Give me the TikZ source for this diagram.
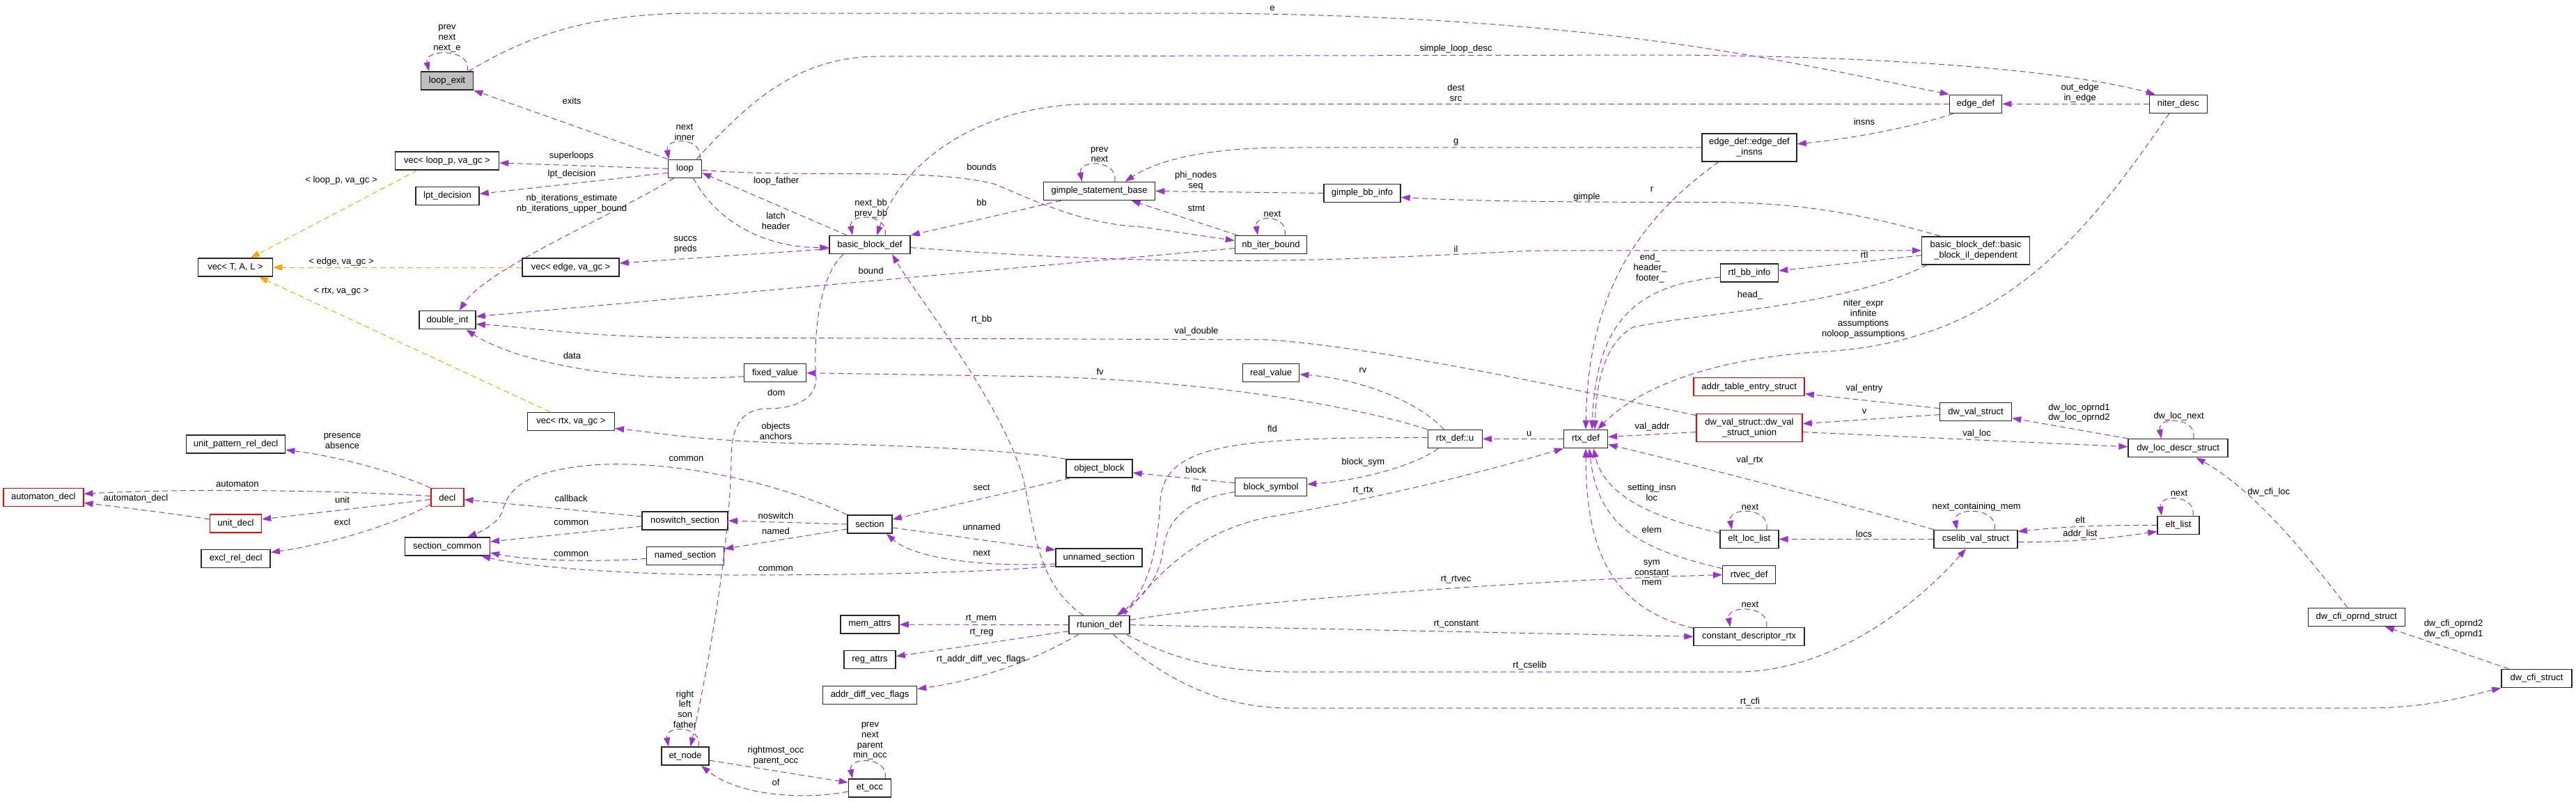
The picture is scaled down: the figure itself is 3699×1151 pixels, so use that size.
\documentclass[tikz,border=0pt]{standalone}
\usepackage{fontspec}
\setmainfont{Liberation Sans}
\usepackage{tikz}
\usetikzlibrary{arrows.meta}
\definecolor{edgepurple}{HTML}{9A32CD}
\definecolor{tmplorange}{HTML}{FFA500}
\definecolor{mainfill}{HTML}{BFBFBF}

\begin{document}
\begin{tikzpicture}[
    x=1pt, y=-1pt,
    every node/.style={font=\fontsize{13}{14.8}\selectfont},
    cls/.style={rectangle, draw=black!85, line width=1.5pt, fill=white, minimum height=26pt, inner sep=0pt, align=center},
    twoline/.style={cls, minimum height=40pt},
    undoc/.style={draw=red},
    uses/.style={-{Triangle[length=13pt, width=9pt]}, edgepurple, dash pattern=on 8pt off 5pt, line width=1pt},
    tmpl/.style={uses, tmplorange},
    lbl/.style={align=center, inner sep=0pt, text=black},
]
\useasboundingbox (0,0) rectangle (3699,1151);

\node[cls, fill=mainfill, minimum width=75pt] (lexit) at (642,116) {loop\_exit};
\node[cls, minimum width=149pt] (veclp) at (642,231) {vec< loop\_p, va\_gc >};
\node[cls, minimum width=91pt] (lptd) at (642.5,281.5) {lpt\_decision};
\node[cls, minimum width=48pt] (loop) at (983.5,242.3) {loop};
\node[cls, minimum width=107pt] (vect) at (338,384) {vec< T, A, L >};
\node[cls, minimum width=139pt] (vecedge) at (819.5,384) {vec< edge, va\_gc >};
\node[cls, minimum width=81pt] (dint) at (642.5,459.7) {double\_int};
\node[cls, minimum width=89pt] (fixv) at (1113,535.7) {fixed\_value};
\node[cls, minimum width=116pt] (bbd) at (1249,351.6) {basic\_block\_def};
\node[cls, minimum width=160pt] (gsb) at (1578.6,274.5) {gimple\_statement\_base};
\node[cls, minimum width=103pt] (nbib) at (1825,351.6) {nb\_iter\_bound};
\node[cls, minimum width=81pt] (realv) at (1825,535.7) {real\_value};
\node[cls, minimum width=110pt] (gbbi) at (1956,277.5) {gimple\_bb\_info};
\node[cls, minimum width=75pt] (edef) at (2837,149.3) {edge\_def};
\node[twoline, minimum width=136pt] (edins) at (2512,211.8) {edge\_def::edge\_def\\\_insns};
\node[twoline, minimum width=155pt] (bbil) at (2837,359.8) {basic\_block\_def::basic\\\_block\_il\_dependent};
\node[cls, minimum width=83pt] (rtlbb) at (2512,392) {rtl\_bb\_info};
\node[cls, undoc, minimum width=159pt] (atab) at (2511.6,555.7) {addr\_table\_entry\_struct};
\node[cls, minimum width=83pt] (nitd) at (3127.8,149.3) {niter\_desc};
\node[cls, minimum width=142pt] (uprd) at (338.5,638.2) {unit\_pattern\_rel\_decl};
\node[cls, undoc, minimum width=115pt] (autd) at (62.3,714.4) {automaton\_decl};
\node[cls, undoc, minimum width=74pt] (unitd) at (338.5,751.9) {unit\_decl};
\node[cls, minimum width=99pt] (excld) at (338.7,802.5) {excl\_rel\_decl};
\node[cls, undoc, minimum width=47pt] (decl) at (642.3,714.5) {decl};
\node[cls, minimum width=122pt] (scom) at (642.3,785) {section\_common};
\node[cls, minimum width=125pt] (vecrtx) at (819.9,605.4) {vec< rtx, va\_gc >};
\node[cls, minimum width=123pt] (nosw) at (983.7,747.9) {noswitch\_section};
\node[cls, minimum width=111pt] (nmsec) at (984,798.4) {named\_section};
\node[cls, minimum width=68pt] (etnode) at (984,1086.2) {et\_node};
\node[cls, minimum width=95pt] (objb) at (1578.5,673.1) {object\_block};
\node[cls, minimum width=64pt] (sect) at (1249,753) {section};
\node[cls, minimum width=124pt] (unsec) at (1578,801) {unnamed\_section};
\node[cls, minimum width=103pt] (bsym) at (1825,699.7) {block\_symbol};
\node[cls, minimum width=84pt] (mema) at (1249,897) {mem\_attrs};
\node[cls, minimum width=87pt] (rtun) at (1578.7,897.6) {rtunion\_def};
\node[cls, minimum width=74pt] (rega) at (1249,947.7) {reg\_attrs};
\node[cls, minimum width=135pt] (adfl) at (1249,998.6) {addr\_diff\_vec\_flags};
\node[cls, minimum width=61pt] (etocc) at (1249,1132) {et\_occ};
\node[cls, minimum width=78pt] (rtxu) at (2089.3,630.5) {rtx\_def::u};
\node[cls, minimum width=63pt] (rtx) at (2277,630.5) {rtx\_def};
\node[twoline, undoc, minimum width=152pt] (dvsu) at (2512,614.6) {dw\_val\_struct::dw\_val\\\_struct\_union};
\node[cls, minimum width=103pt] (dvs) at (2837,591.6) {dw\_val\_struct};
\node[cls, minimum width=84pt] (elll) at (2511.8,774.5) {elt\_loc\_list};
\node[cls, minimum width=120pt] (cvs) at (2837,774.5) {cselib\_val\_struct};
\node[cls, minimum width=76pt] (rtvec) at (2511.7,825.6) {rtvec\_def};
\node[cls, minimum width=159pt] (cdr) at (2511.6,914.4) {constant\_descriptor\_rtx};
\node[cls, minimum width=143pt] (dlds) at (3127.6,643.7) {dw\_loc\_descr\_struct};
\node[cls, minimum width=60pt] (eltl) at (3128,754.4) {elt\_list};
\node[cls, minimum width=139pt] (dcos) at (3383.8,886.4) {dw\_cfi\_oprnd\_struct};
\node[cls, minimum width=101pt] (dcfs) at (3642.5,974.4) {dw\_cfi\_struct};

% loop side
\draw[uses] ([xshift=29pt]lexit.north) .. controls +(8,-33) and +(-8,-33) .. ([xshift=-26pt]lexit.north) node[lbl] at (642,55.5) {prev\\next\\next\_e};
\draw[uses] ([xshift=31pt]lexit.north) .. controls (760,50) and (850,19) .. (1000,19) -- (1750,19) .. controls (2300,25) and (2550,85) .. (edef.north west) node[lbl] at (1827,11.8) {e};
\draw[uses] (loop.north west) -- (lexit.south east) node[lbl] at (821,144.7) {exits};
\draw[uses] ([xshift=21.5pt]loop.north) .. controls +(6,-32) and +(-6,-32) .. ([xshift=-23pt]loop.north) node[lbl] at (983,189.6) {next\\inner};
\draw[uses] (loop.west) -- ([yshift=-3pt]veclp.east) node[lbl] at (820.6,224.6) {superloops};
\draw[uses] ([yshift=-6pt]loop.west) -- ([yshift=3pt]lptd.east) node[lbl] at (821,250.5) {lpt\_decision};
\draw[uses] ([xshift=-16pt]loop.south) .. controls (880,310) and (700,385) .. ([xshift=17pt]dint.north) node[lbl] at (821,292.3) {nb\_iterations\_estimate\\nb\_iterations\_upper\_bound};
\draw[uses] ([xshift=-33pt]bbd.north) -- ([yshift=-6pt]loop.east) node[lbl] at (1114.8,259.7) {loop\_father};
\draw[uses] ([xshift=12pt]loop.south) .. controls (1030,320) and (1100,356) .. ([yshift=-4pt]bbd.west) node[lbl] at (1114,317.7) {latch\\header};
\draw[uses] ([yshift=-6pt]bbd.west) -- ([yshift=6pt]vecedge.east) node[lbl] at (984.3,351.5) {succs\\preds};
\draw[tmpl] ([xshift=-43pt]veclp.south) -- ([xshift=22pt]vect.north) node[lbl] at (490,259) {< loop\_p, va\_gc >};
\draw[tmpl] (vecedge.west) -- (vect.east) node[lbl] at (490,376) {< edge, va\_gc >};
\draw[tmpl] ([xshift=-30pt]vecrtx.north) -- ([xshift=34pt]vect.south) node[lbl] at (490,419) {< rtx, va\_gc >};
\draw[uses] ([yshift=-5pt]fixv.west) .. controls (900,552) and (740,520) .. ([xshift=27pt]dint.south) node[lbl] at (821.4,510.5) {data};
\draw[uses] ([yshift=-5pt]nbib.west) -- ([yshift=5pt]dint.east) node[lbl] at (1250.6,388.5) {bound};
\draw[uses] ([yshift=18pt]dvsu.west) .. controls (2330,575) and (2000,500) .. (1820,488) -- (1000,485) .. controls (850,485) and (760,470) .. ([yshift=-6pt]dint.east) node[lbl] at (1718,476.5) {val\_double};
\draw[uses] (rtxu.north west) .. controls (1950,585) and (1750,548) .. (1500,541) -- (fixv.east) node[lbl] at (1579.6,534) {fv};
\draw[uses] ([xshift=-16pt]rtxu.north) .. controls (2040,580) and (1960,545) .. ([yshift=-2pt]realv.east) node[lbl] at (1957,532) {rv};
\draw[uses] (rtx.west) -- (rtxu.east) node[lbl] at (2195.8,623) {u};
\draw[uses] ([yshift=2pt]rtxu.west) .. controls (1760,628) and (1672,640) .. (1666,720) .. controls (1662,800) and (1645,850) .. ([xshift=28pt]rtun.north) node[lbl] at (1826.9,615.4) {fld};
\draw[uses] ([yshift=-7pt]bsym.west) .. controls (1700,718) and (1675,750) .. (1670,790) .. controls (1665,830) and (1640,860) .. ([xshift=25pt]rtun.north) node[lbl] at (1717.6,702) {fld};
\draw[uses] ([xshift=-24pt]rtxu.south) .. controls (2030,670) and (1950,690) .. ([yshift=4pt]bsym.east) node[lbl] at (1957.4,663.7) {block\_sym};
\draw[uses] ([yshift=6pt]bsym.west) -- ([yshift=-6pt]objb.east) node[lbl] at (1717.2,675) {block};
\draw[uses] ([xshift=36pt]rtun.north) .. controls (1680,800) and (1740,760) .. (1820,743) .. controls (2000,712) and (2150,672) .. (rtx.south west) node[lbl] at (1957.4,704.7) {rt\_rtx};
\draw[uses] ([xshift=-23pt]rtun.north) .. controls (1490,840) and (1485,760) .. (1470,690) .. controls (1440,580) and (1320,430) .. ([xshift=32pt]bbd.south) node[lbl] at (1409.6,459.5) {rt\_bb};
\draw[uses] ([xshift=-38pt]bbd.south) .. controls (1172,400) and (1168,500) .. (1172,545) .. controls (1170,575) and (1140,587) .. (1100,587) .. controls (1060,588) and (1050,620) .. (1050,660) .. controls (1048,800) and (1008,1000) .. ([xshift=7.5pt]etnode.north) node[lbl] at (1114.8,563.4) {dom};

% sections
\draw[uses] (objb.north west) .. controls (1470,648) and (1300,639) .. (1150,637) .. controls (1000,633) and (950,622) .. ([yshift=-10pt]vecrtx.east) node[lbl] at (1114,619) {objects\\anchors};
\draw[uses] ([xshift=-42pt]objb.south) -- ([yshift=7pt]sect.east) node[lbl] at (1409.6,700.6) {sect};
\draw[uses] ([yshift=-5pt]sect.east) -- ([yshift=11pt]unsec.west) node[lbl] at (1409.6,756.4) {unnamed};
\draw[uses] ([yshift=-9pt]unsec.west) .. controls (1400,815) and (1310,800) .. ([xshift=24pt]sect.south) node[lbl] at (1409.6,794.5) {next};
\draw[uses] ([yshift=-12pt]unsec.west) .. controls (1420,822) and (1250,826) .. (1050,826) .. controls (900,825) and (760,815) .. ([xshift=49pt]scom.south) node[lbl] at (1114,816.7) {common};
\draw[uses] (sect.north west) .. controls (1110,690) and (960,660) .. (850,668) .. controls (760,676) and (730,700) .. (722,733) .. controls (716,752) and (690,764) .. ([xshift=29pt]scom.north) node[lbl] at (985.5,658.8) {common};
\draw[uses] (sect.west) -- (nosw.east) node[lbl] at (1114,740.5) {noswitch};
\draw[uses] ([yshift=-7pt]sect.west) -- ([yshift=10pt]nmsec.east) node[lbl] at (1114,762.4) {named};
\draw[uses] ([yshift=6pt]nosw.west) -- ([yshift=-3pt]decl.east) node[lbl] at (820.2,715.7) {callback};
\draw[uses] ([yshift=-8pt]nosw.west) -- ([yshift=7pt]scom.east) node[lbl] at (820.2,750.7) {common};
\draw[uses] ([yshift=-4pt]nmsec.west) .. controls (850,808) and (760,805) .. ([yshift=-9pt]scom.east) node[lbl] at (820.2,795.6) {common};
\draw[uses] (decl.north west) .. controls (560,675) and (480,655) .. ([yshift=-8pt]uprd.east) node[lbl] at (491.5,633.7) {presence\\absence};
\draw[uses] ([yshift=2pt]decl.west) .. controls (450,703) and (250,702) .. ([yshift=5pt]autd.east) node[lbl] at (340.8,695.7) {automaton};
\draw[uses] ([yshift=-3pt]decl.west) -- ([yshift=6pt]unitd.east) node[lbl] at (491.5,718.3) {unit};
\draw[uses] ([yshift=-10pt]decl.west) .. controls (570,752) and (480,780) .. ([yshift=9pt]excld.east) node[lbl] at (491.5,750.3) {excl};
\draw[uses] ([yshift=6pt]unitd.west) .. controls (250,738) and (170,728) .. ([yshift=-8pt]autd.east) node[lbl] at (195,716.4) {automaton\_decl};

% rtunion
\draw[uses] (rtun.west) -- (mema.east) node[lbl] at (1408.8,888.7) {rt\_mem};
\draw[uses] ([yshift=-9pt]rtun.west) -- ([yshift=5pt]rega.east) node[lbl] at (1409.6,908.7) {rt\_reg};
\draw[uses] ([xshift=-30pt]rtun.south) .. controls (1500,940) and (1420,975) .. ([yshift=9pt]adfl.east) node[lbl] at (1408.8,947.5) {rt\_addr\_diff\_vec\_flags};
\draw[uses] ([yshift=7pt]rtun.east) .. controls (1750,868) and (2150,835) .. (rtvec.west) node[lbl] at (2090.6,832.1) {rt\_rtvec};
\draw[uses] (rtun.east) -- (cdr.west) node[lbl] at (2091,896.6) {rt\_constant};
\draw[uses] ([xshift=-5pt]rtun.south east) .. controls (1680,945) and (1750,965) .. (1850,965) -- (2500,965) .. controls (2640,962) and (2760,860) .. ([xshift=-14pt]cvs.south) node[lbl] at (2196.6,956.5) {rt\_cselib};
\draw[uses] ([xshift=20pt]rtun.south) .. controls (1660,965) and (1740,1017) .. (1850,1017) -- (3400,1017) .. controls (3490,1017) and (3550,998) .. (dcfs.south west) node[lbl] at (2513,1008.5) {rt\_cfi};
\draw[uses] ([yshift=-6pt]etnode.east) -- ([yshift=8pt]etocc.west) node[lbl] at (1114,1085.6) {rightmost\_occ\\parent\_occ};
\draw[uses] ([yshift=-5pt]etocc.west) .. controls (1150,1150) and (1060,1142) .. ([xshift=23pt]etnode.south) node[lbl] at (1114,1124.3) {of};
\draw[uses] ([xshift=22pt]etocc.north) .. controls +(6,-32) and +(-6,-32) .. ([xshift=-25pt]etocc.north) node[lbl] at (1249.4,1064.5) {prev\\next\\parent\\min\_occ};
\draw[uses] ([xshift=19pt]etnode.north) .. controls +(6,-31) and +(-6,-31) .. ([xshift=-24pt]etnode.north) node[lbl] at (983.5,1018.7) {right\\left\\son\\father};

% edges and blocks
\draw[uses] ([xshift=-44pt]edins.south) .. controls (2330,330) and (2280,450) .. (rtx.north) node[lbl] at (2372,272) {r};
\draw[uses] ([yshift=-6pt]rtlbb.west) .. controls (2350,410) and (2292,460) .. ([xshift=9pt]rtx.north) node[lbl] at (2369.4,385) {end\_\\header\_\\footer\_};
\draw[uses] ([xshift=-70pt]bbil.south) .. controls (2650,440) and (2450,448) .. (2345,470) .. controls (2300,495) and (2292,560) .. ([xshift=13pt]rtx.north) node[lbl] at (2513,423.6) {head\_};
\draw[uses] ([xshift=-13pt]nitd.south) .. controls (3000,330) and (2880,490) .. (2620,505) .. controls (2450,515) and (2350,560) .. ([xshift=17pt]rtx.north) node[lbl] at (2675.7,458.2) {niter\_expr\\infinite\\assumptions\\noloop\_assumptions};
\draw[uses] ([xshift=17pt]loop.north) .. controls (1080,140) and (1150,82) .. (1260,81) -- (2400,79) .. controls (2800,82) and (3000,110) .. ([xshift=-33pt]nitd.north) node[lbl] at (2090.6,70.3) {simple\_loop\_desc};
\draw[uses] (edef.west) -- (1560,149.5) .. controls (1420,152) and (1300,220) .. ([xshift=10pt]bbd.north) node[lbl] at (2090.6,133.5) {dest\\src};
\draw[uses] (nitd.west) -- (edef.east) node[lbl] at (2986.6,134) {out\_edge\\in\_edge};
\draw[uses] ([xshift=-32pt]edef.south) .. controls (2740,185) and (2650,200) .. ([yshift=5pt]edins.east) node[lbl] at (2677,174.6) {insns};
\draw[uses] (edins.west) -- (1850,212) .. controls (1750,212) and (1670,225) .. ([xshift=37pt]gsb.north) node[lbl] at (2090.6,204.2) {g};
\draw[uses] (gbbi.west) -- (gsb.east) node[lbl] at (1717.2,259.5) {phi\_nodes\\seq};
\draw[uses] ([xshift=22pt]gsb.north) .. controls +(6,-32) and +(-6,-32) .. ([xshift=-25pt]gsb.north) node[lbl] at (1578.8,222) {prev\\next};
\draw[uses] ([xshift=-51pt]bbil.north) .. controls (2650,300) and (2560,290.5) .. (2450,290.5) .. controls (2200,290.5) and (2100,288) .. ([yshift=-6pt]gbbi.east) node[lbl] at (2278.5,283) {gimple};
\draw[uses] ([yshift=-7pt]bbil.west) -- ([yshift=3pt]rtlbb.east) node[lbl] at (2677,366.3) {rtl};
\draw[uses] ([yshift=-4pt]bbd.east) .. controls (1700,385) and (1900,375) .. (2200,360) -- (bbil.west) node[lbl] at (2090.6,357.7) {il};
\draw[uses] ([xshift=-55pt]gsb.south) -- (bbd.north east) node[lbl] at (1409.6,290.8) {bb};
\draw[uses] ([xshift=-48pt]nbib.north) -- ([xshift=46pt]gsb.south) node[lbl] at (1718,299.7) {stmt};
\draw[uses] ([xshift=20pt]nbib.north) .. controls +(5,-30) and +(-5,-30) .. ([xshift=-19pt]nbib.north) node[lbl] at (1827,307) {next};
\draw[uses] ([yshift=-2pt]loop.east) .. controls (1150,256) and (1340,240) .. (1430,265) .. controls (1500,295) and (1560,322) .. (1640,326) -- ([yshift=6pt]nbib.west) node[lbl] at (1409.6,239.7) {bounds};
\draw[uses] ([xshift=22pt]bbd.north) .. controls +(6,-32) and +(-6,-32) .. ([xshift=-25pt]bbd.north) node[lbl] at (1250.6,299.3) {next\_bb\\prev\_bb};

% rtx and dwarf
\draw[uses] ([yshift=-6pt]dvsu.west) -- ([yshift=3pt]rtx.east) node[lbl] at (2372.6,612.8) {val\_addr};
\draw[uses] ([xshift=-60pt]cvs.north) .. controls (2600,710) and (2400,660) .. ([yshift=-8pt]rtx.east) node[lbl] at (2512.8,660.6) {val\_rtx};
\draw[uses] ([yshift=9pt]elll.west) .. controls (2380,745) and (2305,715) .. ([xshift=11pt]rtx.south) node[lbl] at (2371.8,707) {setting\_insn\\loc};
\draw[uses] ([yshift=9pt]rtvec.west) .. controls (2360,790) and (2295,760) .. ([xshift=5pt]rtx.south) node[lbl] at (2371.8,760.5) {elem};
\draw[uses] ([yshift=12pt]cdr.west) .. controls (2300,870) and (2278,770) .. (rtx.south) node[lbl] at (2371.8,822.7) {sym\\constant\\mem};
\draw[uses] ([yshift=5pt]dvs.west) -- ([yshift=-10pt]atab.east) node[lbl] at (2677,558.6) {val\_entry};
\draw[uses] ([yshift=-4pt]dvs.west) -- ([yshift=6pt]dvsu.east) node[lbl] at (2677,591) {v};
\draw[uses] ([yshift=-6pt]dvsu.east) -- ([yshift=2pt]dlds.west) node[lbl] at (2838.6,623.3) {val\_loc};
\draw[uses] (dlds.north west) -- ([yshift=-9pt]dvs.east) node[lbl] at (2985.4,593.2) {dw\_loc\_oprnd1\\dw\_loc\_oprnd2};
\draw[uses] ([xshift=22pt]dlds.north) .. controls +(6,-32) and +(-6,-32) .. ([xshift=-24pt]dlds.north) node[lbl] at (3128.6,598.4) {dw\_loc\_next};
\draw[uses] ([xshift=-13pt]dcos.north) .. controls (3300,780) and (3230,700) .. ([xshift=26pt]dlds.south) node[lbl] at (3257.8,706.6) {dw\_cfi\_loc};
\draw[uses] ([xshift=-40pt]dcfs.north) -- ([xshift=41pt]dcos.south) node[lbl] at (3523,904) {dw\_cfi\_oprnd2\\dw\_cfi\_oprnd1};
\draw[uses] ([xshift=21pt]eltl.north) .. controls +(5,-31) and +(-5,-31) .. ([xshift=-24pt]eltl.north) node[lbl] at (3129,708.5) {next};
\draw[uses] (eltl.west) .. controls (3000,754) and (2950,758) .. ([yshift=11pt]cvs.east) node[lbl] at (2987,746.6) {elt};
\draw[uses] ([yshift=-4pt]cvs.east) .. controls (2980,779) and (3040,772) .. ([yshift=-9pt]eltl.west) node[lbl] at (2987,766.6) {addr\_list};
\draw[uses] (cvs.west) -- (elll.east) node[lbl] at (2676.5,766.6) {locs};
\draw[uses] ([xshift=27pt]cvs.north) .. controls +(6,-33) and +(-6,-33) .. ([xshift=-27pt]cvs.north) node[lbl] at (2838.2,728.5) {next\_containing\_mem};
\draw[uses] ([xshift=25pt]elll.north) .. controls +(6,-33) and +(-6,-33) .. ([xshift=-25pt]elll.north) node[lbl] at (2513,728.5) {next};
\draw[uses] ([xshift=25pt]cdr.north) .. controls +(6,-32) and +(-6,-32) .. ([xshift=-27pt]cdr.north) node[lbl] at (2513,868.7) {next};
\end{tikzpicture}
\end{document}
